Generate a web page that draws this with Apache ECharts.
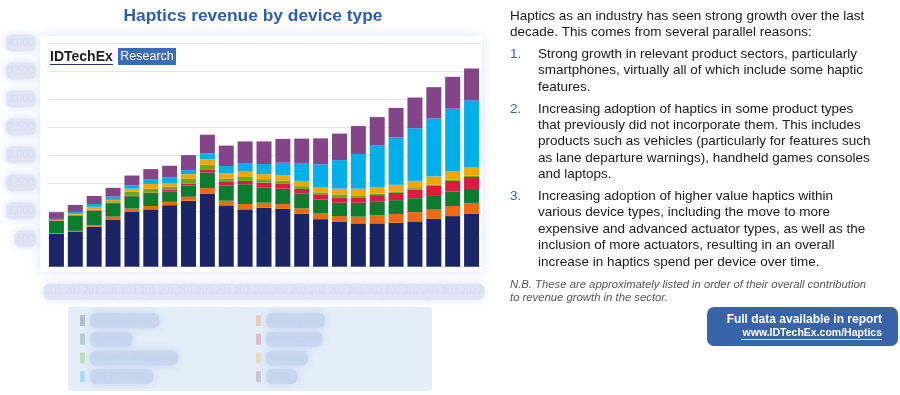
<!DOCTYPE html>
<html>
<head>
<meta charset="utf-8">
<script src="https://cdn.jsdelivr.net/npm/echarts@6/dist/echarts.min.js"></script>
<style>
html,body{margin:0;padding:0;background:#fff;}
#chart{width:900px;height:395px;}
</style>
</head>
<body>
<div id="chart"></div>
<script>
// ---- data (US$ millions) ----
const years = ['2010','2011','2012','2013','2014','2015','2016','2017','2018','2019','2020','2021','2022','2023','2024','2025','2026','2027','2028','2029','2030','2031','2032'];
const seriesNames = ['Smartphones','Automotive','Gaming','Wearables','Tablets & laptops','Medical','XR (VR/AR)','Other'];
const smartphones = [585,630,715,845,980,1025,1100,1180,1310,1085,1025,1055,1035,950,850,800,775,775,785,810,855,905,950];
const automotive  = [10,10,25,50,60,60,60,70,95,95,95,90,85,95,100,105,120,145,155,165,165,180,190];
const gaming      = [225,275,260,240,220,215,190,200,280,275,355,275,275,260,250,240,250,240,250,250,260,260,250];
const wearables   = [5,5,10,10,15,25,20,35,55,60,60,85,85,85,95,95,95,120,130,155,165,190,215];
const tablets     = [5,10,10,25,70,70,60,85,85,60,70,60,60,50,35,50,35,25,25,25,25,25,25];
const medical     = [5,15,50,25,50,85,60,85,95,95,95,90,95,95,95,105,120,120,120,130,145,145,145];
const xr          = [20,35,50,60,60,85,105,70,105,130,145,180,225,320,405,510,620,740,845,940,1035,1120,1200];
const other       = [120,125,145,155,175,180,210,270,335,365,395,405,425,435,465,475,500,510,530,550,560,570,570];
const seriesValues = [smartphones, automotive, gaming, wearables, tablets, medical, xr, other];
const yMax = 4000, yInterval = 500;

// ---- text ----
const titleText = 'Haptics revenue by device type';
const introLines = ['Haptics as an industry has seen strong growth over the last', 'decade. This comes from several parallel reasons:'];
const reasons = [
  ['Strong growth in relevant product sectors, particularly', 'smartphones, virtually all of which include some haptic', 'features.'],
  ['Increasing adoption of haptics in some product types', 'that previously did not incorporate them. This includes', 'products such as vehicles (particularly for features such', 'as lane departure warnings), handheld games consoles', 'and laptops.'],
  ['Increasing adoption of higher value haptics within', 'various device types, including the move to more', 'expensive and advanced actuator types, as well as the', 'inclusion of more actuators, resulting in an overall', 'increase in haptics spend per device over time.']
];
const noteLines = ['N.B. These are approximately listed in order of their overall contribution', 'to revenue growth in the sector.'];
const buttonLines = ['Full data available in report', 'www.IDTechEx.com/Haptics'];

// ---- styles ----
const colors = ['#1b2566','#ee6a10','#0b7b2e','#de1a40','#5fae1c','#f5a602','#00afea','#844588'];
const FONT = '"Liberation Sans", Arial, sans-serif';
const blurText = {
  color: 'rgba(214,220,240,1)',
  backgroundColor: 'rgba(224,228,244,1)',
  borderRadius: 6,
  padding: [3, 2],
  shadowBlur: 10,
  shadowColor: 'rgba(224,228,244,1)'
};
const legendBlur = {
  color: 'rgba(196,212,238,1)',
  backgroundColor: 'rgba(200,215,240,1)',
  borderRadius: 6,
  padding: [2, 2],
  shadowBlur: 8,
  shadowColor: 'rgba(200,215,240,1)',
  fontSize: 11,
  fontFamily: FONT
};

const graphics = [];
// chart card
graphics.push({type:'rect', z:-20, silent:true, shape:{x:40,y:36,width:442,height:236},
  style:{fill:'#ffffff', shadowBlur:12, shadowColor:'rgba(160,170,220,0.3)'}});
// legend box
graphics.push({type:'rect', z:-20, silent:true, shape:{x:68,y:307,width:364,height:84,r:3},
  style:{fill:'#e3eef9'}});
// title
graphics.push({type:'text', x:253, y:16, style:{text:titleText, font:'bold 17.4px '+FONT, fill:'#2f5eab', align:'center', verticalAlign:'middle'}});
// logo
graphics.push({type:'text', x:50, y:57, style:{text:'IDTechEx', font:'bold 14px '+FONT, fill:'#1d1d1d', align:'left', verticalAlign:'middle'}});
graphics.push({type:'line', shape:{x1:50,y1:64.5,x2:113,y2:64.5}, style:{stroke:'#2a3566', lineWidth:1.2}});
graphics.push({type:'rect', shape:{x:118,y:48,width:58,height:17}, style:{fill:'#3d6cb6'}});
graphics.push({type:'text', x:147, y:57, style:{text:'Research', font:'12.5px '+FONT, fill:'#ffffff', align:'center', verticalAlign:'middle'}});

// right-hand text
const TX = 510, TX2 = 538, LH = 16.4, PGAP = 5.4;
const bodyFont = '13.5px ' + FONT;
let y = 16;
introLines.forEach(l => { graphics.push({type:'text', x:TX, y:y, style:{text:l, font:bodyFont, fill:'#1a1a1a', verticalAlign:'middle'}}); y += LH; });
y += PGAP;
reasons.forEach((para, i) => {
  graphics.push({type:'text', x:TX, y:y, style:{text:(i+1)+'.', font:bodyFont, fill:'#3e64ab', verticalAlign:'middle'}});
  para.forEach(l => { graphics.push({type:'text', x:TX2, y:y, style:{text:l, font:bodyFont, fill:'#1a1a1a', verticalAlign:'middle'}}); y += LH; });
  y += PGAP;
});
graphics.push({type:'text', x:TX, y:285, style:{text:noteLines[0], font:'italic 11.3px '+FONT, fill:'#555555', verticalAlign:'middle'}});
graphics.push({type:'text', x:TX, y:297.5, style:{text:noteLines[1], font:'italic 11.3px '+FONT, fill:'#555555', verticalAlign:'middle'}});
// button
graphics.push({type:'rect', shape:{x:707,y:307,width:191,height:39,r:7}, style:{fill:'#3a64a9'}});
graphics.push({type:'text', x:882, y:320, style:{text:buttonLines[0], font:'bold 12px '+FONT, fill:'#ffffff', align:'right', verticalAlign:'middle'}});
graphics.push({type:'text', x:882, y:333.5, style:{text:buttonLines[1], font:'bold 10.5px '+FONT, fill:'#ffffff', align:'right', verticalAlign:'middle'}});
graphics.push({type:'line', shape:{x1:741,y1:339.5,x2:882,y2:339.5}, style:{stroke:'#ffffff', lineWidth:0.8}});

const legendCommon = {orient:'vertical', top:313, height:80, padding:0,
  itemWidth:5, itemHeight:11, itemGap:3.7, icon:'rect', itemStyle:{opacity:0.25},
  textStyle:legendBlur, selectedMode:false};

const chart = echarts.init(document.getElementById('chart'), null, {renderer:'canvas'});
chart.setOption({
  animation: false,
  backgroundColor: '#ffffff',
  textStyle: {fontFamily: FONT},
  graphic: {elements: graphics},
  legend: [
    Object.assign({data:[seriesNames[0],seriesNames[2],seriesNames[4],seriesNames[6]], left:80}, legendCommon),
    Object.assign({data:[seriesNames[1],seriesNames[3],seriesNames[5],seriesNames[7]], left:256}, legendCommon)
  ],
  grid: {left:47, right:419, top:43, bottom:128.3, containLabel:false},
  xAxis: {
    type:'category', data: years,
    axisLine:{show:false}, axisTick:{show:false},
    axisLabel: Object.assign({fontSize:10, margin:17, interval:0}, blurText)
  },
  yAxis: {
    type:'value', min:0, max:yMax, interval:yInterval,
    axisLine:{show:false}, axisTick:{show:false},
    splitLine:{lineStyle:{color:'#e4e4ea', width:1}},
    axisLabel: Object.assign({fontSize:10.5, margin:11, showMinLabel:false,
      formatter: v => v.toString().replace(/\B(?=(\d{3})+(?!\d))/g, ',')}, blurText)
  },
  series: seriesNames.map((n, i) => ({
    name: n, type:'bar', stack:'total', barWidth:15,
    itemStyle:{color:colors[i]},
    data: seriesValues[i]
  }))
});
</script>
</body>
</html>
